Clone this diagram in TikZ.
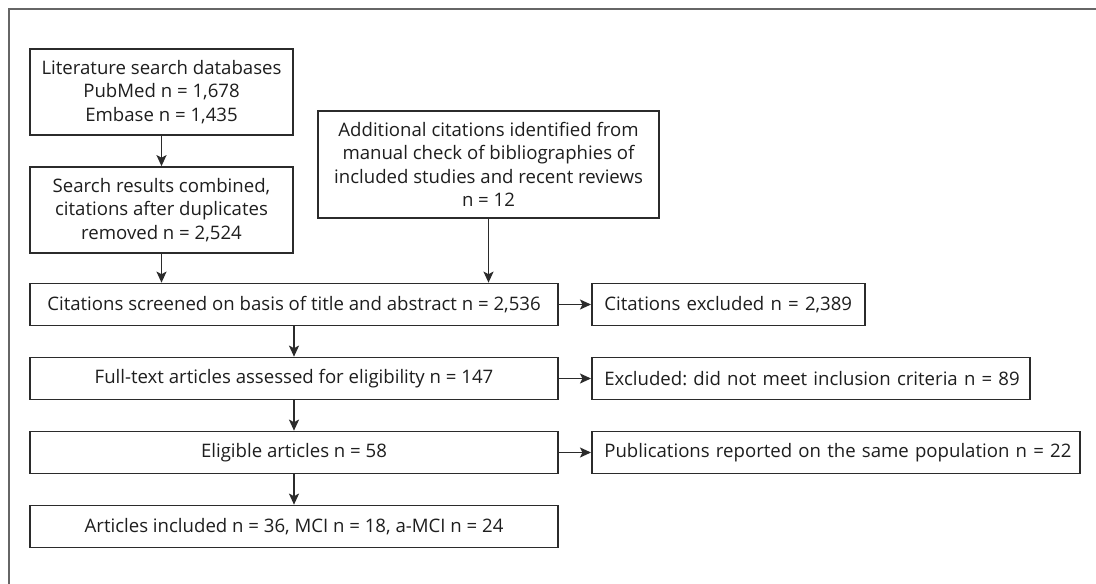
\documentclass[tikz,border=0pt]{standalone}
\usepackage{fontspec}
\setmainfont{Open Sans}
\frenchspacing
\usetikzlibrary{arrows.meta}
\definecolor{ln}{HTML}{2B2B2B}
\definecolor{tx}{HTML}{1E1E1E}
\definecolor{fr}{HTML}{666666}
\begin{document}
\begin{tikzpicture}[x=1pt,y=-1pt,
  box/.style={draw=ln,line width=1.7pt,fill=white,inner sep=0pt,align=center,text=tx,
    font=\fontsize{18.6}{23.5}\selectfont},
  arr/.style={draw=ln,line width=1.5pt,-{Stealth[length=11pt,width=10pt,inset=2.5pt]}}]
\useasboundingbox[fill=white] (0,0) rectangle (1096,584);
\draw[fr,line width=2pt] (9,584) -- (9,9) -- (1096,9);
\node[box,minimum width=263pt,minimum height=86pt] (lit) at (161.5,92)
  {Literature search databases\\PubMed n = 1,678\\Embase n = 1,435};
\node[box,minimum width=263pt,minimum height=86pt] (comb) at (161.5,210)
  {Search results combined,\\citations after duplicates\\removed n = 2,524};
\node[box,minimum width=341pt,minimum height=107pt] (add) at (488.5,164.5)
  {Additional citations identified from\\manual check of bibliographies of\\included studies and recent reviews\\n = 12};
\node[box,minimum width=528pt,minimum height=42pt] (scr) at (294,304.5)
  {Citations screened on basis of title and abstract n = 2,536};
\node[box,minimum width=528pt,minimum height=42pt] (full) at (294,378.5)
  {Full-text articles assessed for eligibility n = 147};
\node[box,minimum width=528pt,minimum height=42pt] (elig) at (294,452.5)
  {Eligible articles n = 58};
\node[box,minimum width=528pt,minimum height=42pt] (incl) at (294,526.5)
  {Articles included n = 36, MCI n = 18, a-MCI n = 24};
\node[box,anchor=west,minimum width=273pt,minimum height=42pt,align=left,text width=264pt] (ex1) at (591,304.5)
  {\hspace*{8pt}Citations excluded n = 2,389};
\node[box,anchor=west,minimum width=438pt,minimum height=42pt,align=left,text width=429pt] (ex2) at (591,378.5)
  {\hspace*{8pt}Excluded: did not meet inclusion criteria n = 89};
\node[box,anchor=west,minimum width=488pt,minimum height=42pt,align=left,text width=479pt] (ex3) at (591,452.5)
  {\hspace*{8pt}Publications reported on the same population n = 22};
\draw[arr] (lit) -- (comb);
\draw[arr] (comb.south) -- (comb.south |- scr.north);
\draw[arr] (add.south) -- (add.south |- scr.north);
\draw[arr] (scr) -- (full);
\draw[arr] (full) -- (elig);
\draw[arr] (elig) -- (incl);
\draw[arr] (scr) -- (ex1);
\draw[arr] (full) -- (ex2);
\draw[arr] (elig) -- (ex3);
\end{tikzpicture}
\end{document}
